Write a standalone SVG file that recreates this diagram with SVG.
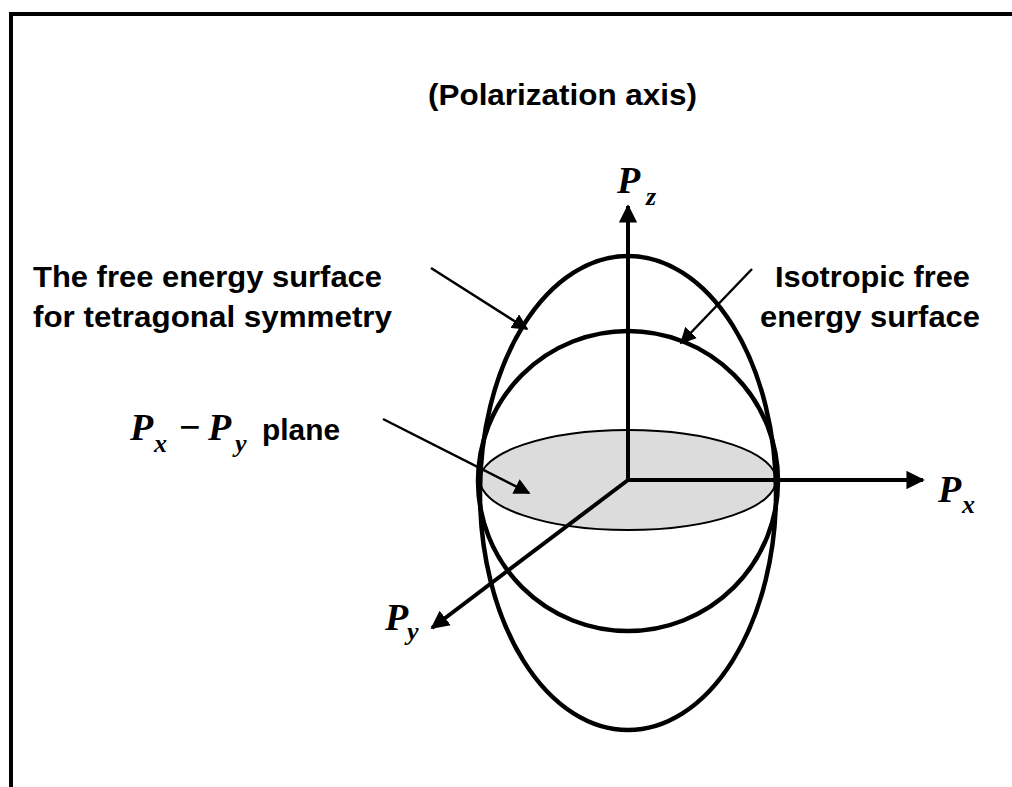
<svg xmlns="http://www.w3.org/2000/svg" width="1012" height="787" viewBox="0 0 1012 787">
<defs>
<marker id="ah" viewBox="0 0 10 10" refX="9" refY="5" markerWidth="4.6" markerHeight="4.6" orient="auto" markerUnits="strokeWidth"><path d="M0,0 L10,5 L0,10 z" fill="#000"/></marker>
<marker id="ahs" viewBox="0 0 10 10" refX="9" refY="5" markerWidth="6.5" markerHeight="6.5" orient="auto" markerUnits="strokeWidth"><path d="M0,0 L10,5 L0,10 z" fill="#000"/></marker>
<style>
.lbl{font-family:"Liberation Sans",Arial,sans-serif;font-weight:bold;font-size:30px;fill:#000}
.math{font-family:"Liberation Serif","Times New Roman",serif;font-weight:bold;font-style:italic;font-size:38px;fill:#000}
.sub{font-family:"Liberation Serif","Times New Roman",serif;font-weight:bold;font-style:italic;font-size:26px;fill:#000}
.axis{stroke:#000;stroke-width:4;fill:none}
.curve{stroke:#000;stroke-width:4.5;fill:none}
.ptr{stroke:#000;stroke-width:2.5;fill:none}
</style>
</defs>
<rect width="1012" height="787" fill="#fff"/>
<path d="M11,787 L11,14 L1012,14" stroke="#000" stroke-width="4" fill="none"/>
<g id="plane"><ellipse cx="628" cy="480" rx="148" ry="50" fill="#dcdcdc" stroke="#000" stroke-width="2"/></g>
<g id="tetragonal"><ellipse cx="628" cy="493" rx="148" ry="237" class="curve"/></g>
<g id="isotropic"><circle cx="628" cy="481" r="150" class="curve"/></g>
<g id="connectors">
<line x1="628" y1="480" x2="628" y2="206" class="axis" marker-end="url(#ah)"/>
<line x1="628" y1="480" x2="923" y2="480" class="axis" marker-end="url(#ah)"/>
<line x1="628" y1="480" x2="432" y2="628" class="axis" marker-end="url(#ah)"/>
<line x1="431" y1="268" x2="527" y2="329" class="ptr" marker-end="url(#ahs)"/>
<line x1="752" y1="269" x2="681" y2="343" class="ptr" marker-end="url(#ahs)"/>
<line x1="383" y1="419" x2="529" y2="493" class="ptr" marker-end="url(#ahs)"/>
</g>
<g id="title"><text x="428" y="105" class="lbl" font-size="25" textLength="269" lengthAdjust="spacingAndGlyphs">(Polarization axis)</text></g>
<g id="label-pz"><text x="617" y="193" class="math">P</text><text x="646" y="205" class="sub">z</text></g>
<g id="label-px"><text x="938" y="502" class="math">P</text><text x="962" y="513" class="sub">x</text></g>
<g id="label-py"><text x="385" y="630" class="math">P</text><text x="407" y="640" class="sub">y</text></g>
<g id="label-tetragonal"><text x="33" y="287" class="lbl" textLength="349" lengthAdjust="spacingAndGlyphs">The free energy surface</text><text x="33" y="327" class="lbl" textLength="359" lengthAdjust="spacingAndGlyphs">for tetragonal symmetry</text></g>
<g id="label-isotropic"><text x="775" y="287" class="lbl" textLength="195" lengthAdjust="spacingAndGlyphs">Isotropic free</text><text x="760" y="327" class="lbl" textLength="220" lengthAdjust="spacingAndGlyphs">energy surface</text></g>
<g id="label-plane"><text x="130" y="440" class="math">P</text><text x="154" y="452" class="sub">x</text><text x="178" y="440" class="math" font-style="normal" font-weight="normal">−</text><text x="208" y="440" class="math">P</text><text x="235" y="452" class="sub">y</text><text x="262" y="440" class="lbl" font-size="26" textLength="78" lengthAdjust="spacingAndGlyphs">plane</text></g>
</svg>
